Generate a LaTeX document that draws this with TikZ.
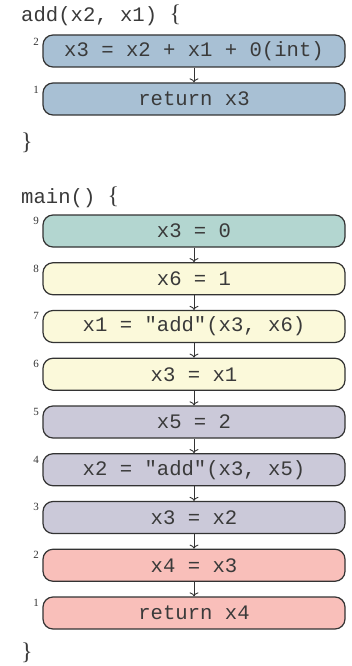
\documentclass[tikz,border=0pt]{standalone}
\usepackage{fontspec}
\setmainfont{Liberation Serif}
\setmonofont{Liberation Mono}
\usetikzlibrary{arrows.meta}
\definecolor{cadd}{HTML}{A8C0D4}
\definecolor{cteal}{HTML}{B3D6D0}
\definecolor{cyel}{HTML}{FBF9DA}
\definecolor{cpur}{HTML}{CBC9D9}
\definecolor{cpink}{HTML}{F9BFBA}
\definecolor{cline}{HTML}{333333}
\definecolor{ctext}{HTML}{3A3A3A}
\tikzset{
  stmt/.style={draw=cline, line width=1.2pt, rounded corners=10pt, minimum width=302pt, minimum height=32pt, inner sep=0pt, text=ctext, font=\fontsize{20.6}{22}\ttfamily},
  num/.style={anchor=north east, inner sep=0pt, text=cline, font=\fontsize{11}{12}\selectfont},
  hdr/.style={anchor=base west, inner sep=0pt, text=ctext, font=\fontsize{20.6}{22}\ttfamily},
  brace/.style={anchor=base west, inner sep=0pt, text=ctext, font=\fontsize{24}{26}\selectfont},
  flow/.style={draw=cline, line width=0.9pt, -{To[length=4pt,width=9pt]}}
}
\begin{document}
\begin{tikzpicture}[x=1pt,y=-1pt]
\useasboundingbox (0,0) rectangle (352,666);
% add function
\node[hdr] (addh) at (21,22) {add(x2, x1) \fontsize{24}{26}\rmfamily\{};
\node[stmt, fill=cadd] (a2) at (194,51) {x3 = x2 + x1 + 0(int)};
\node[stmt, fill=cadd] (a1) at (194,99) {return x3};
\node[num] (na2) at (39,38) {2};
\node[num] (na1) at (39,86) {1};
\draw[flow] (a2) -- (a1);
\node[brace] (addc) at (21,149) {\}};
% main function
\node[hdr] (mainh) at (21,203) {main() \fontsize{24}{26}\rmfamily\{};
\foreach \i/\t/\c [count=\k from 0] in {
  9/{x3 = 0}/cteal,
  8/{x6 = 1}/cyel,
  7/{x1 = "add"(x3, x6)}/cyel,
  6/{x3 = x1}/cyel,
  5/{x5 = 2}/cpur,
  4/{x2 = "add"(x3, x5)}/cpur,
  3/{x3 = x2}/cpur,
  2/{x4 = x3}/cpink,
  1/{return x4}/cpink} {
  \node[stmt, fill=\c] (m\i) at (194,{231+47.75*\k}) {\t};
  \node[num] (nm\i) at (39,{217+47.75*\k}) {\i};
}
\foreach \a/\b in {9/8,8/7,7/6,6/5,5/4,4/3,3/2,2/1}
  \draw[flow] (m\a) -- (m\b);
\node[brace] (mainc) at (21,659) {\}};
\end{tikzpicture}
\end{document}
